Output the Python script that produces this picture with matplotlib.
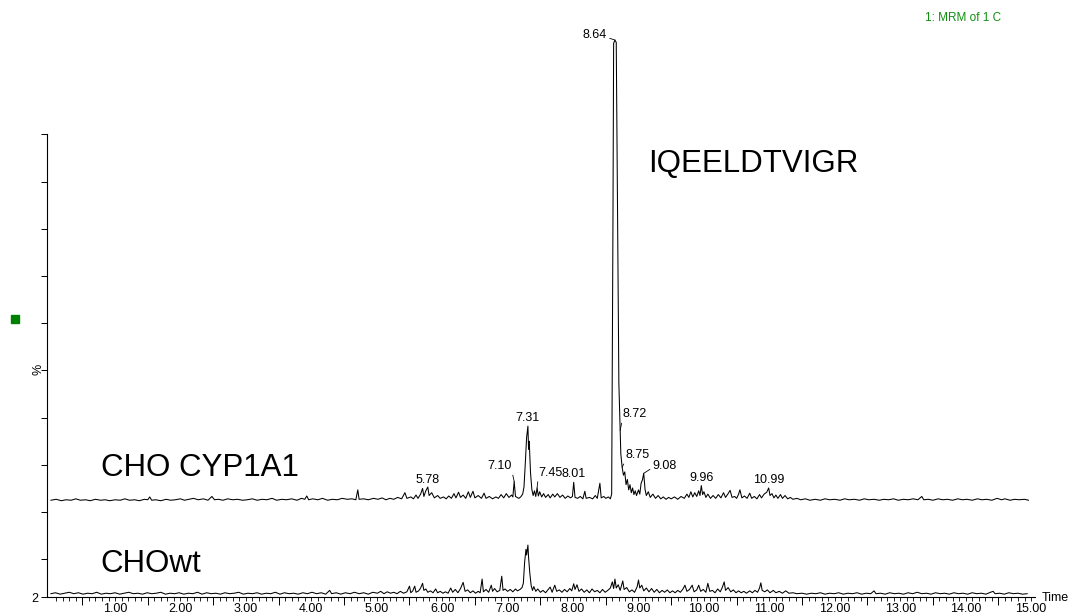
import numpy as np
import matplotlib
matplotlib.use("Agg")
import matplotlib.pyplot as plt
from matplotlib.patches import Rectangle

plt.rcParams['font.family'] = ['Liberation Sans', 'DejaVu Sans']

# ---------------- data (retention time in min, intensity in % of axis) -------------
TOP_T = [0.02, 0.1, 0.18, 0.25, 0.33, 0.4, 0.47, 0.55, 0.62, 0.7, 0.78, 0.85, 0.92, 1.0, 1.08, 1.15,
         1.22, 1.3, 1.37, 1.45, 1.5, 1.53, 1.56, 1.62, 1.7, 1.78, 1.85, 1.92, 2.0, 2.06, 2.13, 2.2,
         2.27, 2.35, 2.42, 2.48, 2.52, 2.58, 2.65, 2.72, 2.8, 2.87, 2.95, 3.02, 3.1, 3.17, 3.25,
         3.32, 3.4, 3.47, 3.55, 3.62, 3.7, 3.78, 3.85, 3.9, 3.93, 3.96, 4.02, 4.1, 4.17, 4.25, 4.32,
         4.4, 4.47, 4.55, 4.62, 4.68, 4.71, 4.73, 4.8, 4.87, 4.95,
         5.02, 5.08, 5.14, 5.2, 5.26, 5.32, 5.38, 5.43, 5.46, 5.52, 5.56, 5.6, 5.63, 5.67, 5.70,
         5.72, 5.75, 5.78, 5.8, 5.84, 5.88, 5.93, 5.97, 6.02, 6.06, 6.1, 6.14, 6.18, 6.21, 6.25,
         6.28, 6.32, 6.36, 6.4, 6.43, 6.47, 6.5, 6.55, 6.6, 6.64, 6.67, 6.72, 6.77, 6.82, 6.86,
         6.9, 6.94, 6.98, 7.02, 7.06, 7.08, 7.10, 7.12, 7.17, 7.2, 7.23,
         7.25, 7.27, 7.29, 7.31, 7.32, 7.33, 7.35, 7.37, 7.39, 7.41, 7.43, 7.45, 7.47, 7.49, 7.52,
         7.55, 7.58, 7.62, 7.65, 7.69, 7.72, 7.76, 7.8, 7.84, 7.88, 7.92, 7.96, 7.99, 8.01, 8.03,
         8.07, 8.11, 8.15, 8.18, 8.2, 8.25, 8.3, 8.34, 8.37, 8.41, 8.43, 8.47, 8.5, 8.54, 8.57,
         8.59, 8.61, 8.62, 8.64, 8.66, 8.68, 8.70, 8.72, 8.73, 8.75, 8.77, 8.79, 8.81, 8.83, 8.85,
         8.87, 8.89, 8.91, 8.93, 8.95, 8.97, 9.0, 9.02, 9.04, 9.06, 9.08, 9.1, 9.12, 9.15, 9.18,
         9.22, 9.26, 9.3, 9.34, 9.38, 9.42, 9.46, 9.5, 9.55, 9.6, 9.65, 9.7, 9.74, 9.77, 9.8, 9.83,
         9.86, 9.89, 9.92, 9.94, 9.96, 9.98, 10.0, 10.03, 10.06, 10.1, 10.14, 10.18, 10.22, 10.26,
         10.3, 10.33, 10.37, 10.4, 10.43, 10.47, 10.5, 10.53, 10.55, 10.58, 10.62, 10.66, 10.7,
         10.73, 10.77, 10.81, 10.85, 10.88, 10.92, 10.96, 10.99, 11.01, 11.04, 11.07, 11.1, 11.13,
         11.17, 11.2, 11.24, 11.28, 11.32, 11.36, 11.42, 11.48,
         11.55, 11.62, 11.7, 11.78, 11.85, 11.92, 12.0, 12.08, 12.15, 12.22, 12.3, 12.38, 12.45,
         12.52, 12.6, 12.68, 12.75, 12.82, 12.9, 12.97, 13.05, 13.12, 13.2, 13.27, 13.33, 13.36,
         13.43, 13.5, 13.58, 13.65, 13.72, 13.8, 13.88, 13.95, 14.02, 14.1, 14.18, 14.25, 14.32,
         14.4, 14.48, 14.55, 14.6, 14.68, 14.75, 14.82, 14.9, 14.96]
TOP_I = [0.2, 0.4, 0.1, 0.3, 0.2, 0.5, 0.2, 0.3, 0.1, 0.4, 0.2, 0.3, 0.1, 0.3, 0.2, 0.5,
         0.2, 0.3, 0.1, 0.4, 0.3, 0.9, 0.2, 0.3, 0.1, 0.4, 0.2, 0.3, 0.5, 0.2, 0.4, 0.6,
         0.3, 0.5, 0.2, 1.0, 0.3, 0.4, 0.2, 0.5, 0.3, 0.4, 0.2, 0.3, 0.5, 0.2, 0.4,
         0.3, 0.6, 0.2, 0.4, 0.3, 0.5, 0.2, 0.6, 0.4, 1.1, 0.3, 0.5, 0.3, 0.6, 0.2, 0.4,
         0.3, 0.6, 0.4, 0.5, 0.3, 2.4, 0.4, 0.5, 0.3, 0.6,
         0.4, 0.7, 0.3, 0.6, 0.4, 0.8, 0.5, 1.8, 0.6, 0.9, 0.5, 1.3, 0.6, 1.5, 2.7,
         1.0, 2.2, 3.0, 1.2, 1.8, 0.7, 1.2, 0.6, 0.9, 0.5, 1.1, 0.6, 1.6, 0.7, 1.9,
         0.8, 1.3, 0.6, 2.0, 0.8, 2.1, 0.7, 1.2, 0.6, 1.7, 0.6, 1.0, 0.5, 0.9, 0.6,
         1.4, 0.7, 1.6, 0.8, 1.3, 0.9, 4.2, 1.0, 0.6, 0.9, 1.5,
         3.0, 8.0, 13.5, 15.9, 11.0, 12.7, 6.0, 2.5, 1.2, 2.2, 1.0, 2.8, 1.1, 2.0, 0.9,
         1.6, 0.8, 1.4, 0.7, 1.5, 0.9, 1.6, 0.8, 1.3, 0.6, 1.1, 0.7, 1.0, 4.0, 0.8,
         0.6, 1.0, 0.5, 2.1, 0.6, 0.8, 0.5, 1.2, 0.6, 3.8, 0.7, 1.0, 0.6, 0.9, 0.5,
         1.5, 60.0, 97.0, 97.7, 97.2, 60.0, 25.0, 15.0, 10.0, 7.2, 5.5, 6.2, 3.5, 4.6, 2.4,
         3.5, 1.8, 2.8, 1.4, 2.2, 1.2, 2.4, 1.5, 3.8, 4.5, 5.9, 2.5, 1.2, 2.0, 0.8,
         1.5, 0.6, 1.2, 0.5, 0.9, 0.4, 0.8, 0.5, 0.9, 0.4, 1.0, 0.6, 1.5, 0.8, 2.0, 0.9,
         1.8, 1.0, 2.2, 1.2, 3.3, 1.4, 2.0, 0.8, 1.5, 0.6, 1.2, 0.6, 1.4, 0.7,
         1.8, 0.8, 1.6, 2.3, 0.8, 1.0, 0.6, 1.5, 2.4, 0.7, 1.1, 0.6, 1.7,
         0.6, 1.0, 0.5, 1.4, 0.7, 1.5, 1.9, 2.8, 1.2, 1.6, 0.7, 1.3, 0.6,
         1.4, 0.6, 1.2, 0.5, 0.8, 0.4, 0.6, 0.3,
         0.5, 0.2, 0.4, 0.2, 0.5, 0.3, 0.4, 0.2, 0.5, 0.3, 0.4, 0.2, 0.5,
         0.3, 0.4, 0.2, 0.4, 0.3, 0.5, 0.2, 0.4, 0.3, 0.5, 0.3, 1.0, 0.3,
         0.4, 0.2, 0.5, 0.3, 0.4, 0.2, 0.5, 0.3, 0.4, 0.2, 0.5, 0.3, 0.4,
         0.2, 0.6, 0.3, 0.5, 0.2, 0.4, 0.3, 0.4, 0.2]

WT_T = [0.02, 0.09, 0.16, 0.23, 0.3, 0.37, 0.44, 0.51, 0.58, 0.65, 0.72, 0.79, 0.86, 0.93, 1.0,
        1.07, 1.14, 1.21, 1.28, 1.35, 1.42, 1.49, 1.56, 1.63, 1.7, 1.77, 1.84, 1.91, 1.98, 2.05,
        2.12, 2.19, 2.26, 2.33, 2.4, 2.47, 2.54, 2.61, 2.68, 2.75, 2.82, 2.89, 2.96, 3.03, 3.1,
        3.17, 3.24, 3.31, 3.38, 3.45, 3.52, 3.59, 3.66, 3.73, 3.8, 3.87, 3.94, 4.01, 4.08, 4.15,
        4.22, 4.28, 4.31, 4.38, 4.45, 4.52, 4.59, 4.66, 4.73, 4.8, 4.87, 4.94,
        5.01, 5.06, 5.11, 5.16, 5.21, 5.26, 5.31, 5.36, 5.41, 5.46, 5.5, 5.52, 5.55, 5.58, 5.6,
        5.64, 5.67, 5.7, 5.72, 5.75, 5.78, 5.82, 5.86, 5.9, 5.93, 5.97, 6.01, 6.05, 6.09, 6.13,
        6.16, 6.2, 6.24, 6.28, 6.32, 6.35, 6.39, 6.43, 6.47, 6.51, 6.55, 6.58, 6.61, 6.63, 6.67,
        6.71, 6.75, 6.77, 6.8, 6.84, 6.88, 6.91, 6.93, 6.96, 7.0, 7.04, 7.08, 7.12, 7.15, 7.19,
        7.22, 7.24, 7.26, 7.28, 7.29, 7.31, 7.32, 7.34, 7.36, 7.38, 7.4, 7.43, 7.46, 7.5, 7.54,
        7.58, 7.62, 7.65, 7.68, 7.72, 7.75, 7.79, 7.83, 7.87, 7.91, 7.95, 7.98, 8.01, 8.03, 8.06,
        8.09, 8.13, 8.17, 8.21, 8.25, 8.29, 8.33, 8.37, 8.41, 8.45, 8.49, 8.53, 8.57, 8.6, 8.62,
        8.64, 8.66, 8.69, 8.72, 8.76, 8.78, 8.82, 8.86, 8.9, 8.94, 8.98, 9.0, 9.02, 9.05, 9.08,
        9.12, 9.16, 9.2, 9.24, 9.28, 9.32, 9.36, 9.4, 9.44, 9.48, 9.52, 9.56, 9.6, 9.64, 9.68,
        9.71, 9.74, 9.78, 9.82, 9.85, 9.89, 9.92, 9.95, 9.99, 10.03, 10.06, 10.09, 10.13, 10.17,
        10.21, 10.25, 10.28, 10.31, 10.33, 10.37, 10.41, 10.45, 10.49, 10.53, 10.57, 10.61,
        10.65, 10.7, 10.74, 10.78, 10.82, 10.85, 10.87, 10.89, 10.93, 10.97, 11.01, 11.06, 11.1,
        11.15, 11.2, 11.25, 11.3, 11.36, 11.42,
        11.5, 11.57, 11.64, 11.71, 11.78, 11.85, 11.92, 11.99, 12.06, 12.13, 12.2, 12.27, 12.34,
        12.41, 12.48, 12.55, 12.6, 12.63, 12.7, 12.77, 12.84, 12.91, 12.98, 13.05, 13.12, 13.19,
        13.26, 13.33, 13.4, 13.47, 13.54, 13.61, 13.68, 13.75, 13.82, 13.89, 13.96, 14.03, 14.1,
        14.17, 14.24, 14.31, 14.38, 14.42, 14.45, 14.52, 14.59, 14.66, 14.73, 14.8, 14.87, 14.94]
WT_I = [0.3, 0.5, 0.2, 0.4, 0.6, 0.3, 0.5, 0.2, 0.4, 0.3, 0.6, 0.2, 0.4, 0.3, 0.5,
        0.2, 0.4, 0.6, 0.3, 0.4, 0.2, 0.5, 0.3, 0.4, 0.6, 0.2, 0.4, 0.3, 0.5, 0.2,
        0.4, 0.3, 0.6, 0.2, 0.5, 0.3, 0.4, 0.2, 0.5, 0.3, 0.4, 0.6, 0.2, 0.4, 0.3,
        0.5, 0.2, 0.4, 0.3, 0.6, 0.2, 0.5, 0.3, 0.4, 0.2, 0.5, 0.3, 0.6, 0.3, 0.5,
        0.2, 1.0, 0.3, 0.5, 0.2, 0.5, 0.3, 0.6, 0.3, 0.5, 0.2, 0.6,
        0.4, 0.8, 0.3, 0.7, 0.4, 0.6, 0.3, 0.8, 0.4, 0.7, 1.9, 0.5, 0.9, 1.9, 0.6,
        0.9, 1.5, 2.5, 1.0, 1.3, 0.6, 0.9, 0.5, 1.3, 0.5, 0.8, 0.4, 0.7, 0.4, 1.5,
        0.6, 1.2, 0.5, 1.4, 2.7, 0.8, 1.1, 0.5, 0.9, 0.4, 0.8, 0.5, 3.4, 0.7, 1.2,
        0.6, 2.1, 0.8, 1.4, 0.7, 1.0, 4.0, 1.0, 1.3, 0.8, 1.2, 0.7, 1.3, 0.9, 1.2,
        1.6, 2.5, 7.0, 9.7, 8.5, 10.6, 8.0, 4.5, 2.0, 1.0, 1.8, 0.8, 1.3, 0.6, 1.0,
        0.5, 1.2, 1.7, 0.6, 2.1, 0.8, 1.1, 0.6, 1.2, 0.7, 1.4, 0.9, 2.4, 1.2, 2.2,
        0.8, 1.3, 0.6, 1.1, 0.5, 1.3, 0.7, 1.0, 0.5, 1.2, 0.6, 1.0, 1.5, 2.8, 1.4,
        3.4, 1.5, 2.2, 1.0, 3.0, 1.2, 1.6, 0.7, 1.1, 0.6, 1.8, 3.2, 1.5, 2.1, 0.9,
        1.5, 0.7, 1.4, 0.6, 1.2, 0.5, 1.0, 0.6, 1.1, 0.5, 0.9, 0.5, 1.0, 0.6, 1.3,
        2.1, 0.8, 1.2, 2.1, 0.7, 1.1, 2.1, 0.8, 1.2, 0.6, 2.5, 0.8, 1.0, 0.5,
        1.3, 0.7, 1.6, 2.8, 1.0, 1.6, 0.7, 1.1, 0.5, 0.9, 0.5, 0.8,
        0.4, 0.9, 0.5, 1.0, 0.6, 1.5, 2.6, 1.0, 0.7, 1.1, 0.5, 1.0, 0.5,
        0.8, 0.4, 0.9, 0.4, 0.5, 0.3,
        0.4, 0.2, 0.4, 0.3, 0.5, 0.2, 0.4, 0.3, 0.5, 0.2, 0.4, 0.3, 0.5,
        0.2, 0.4, 0.3, 0.9, 0.3, 0.4, 0.2, 0.5, 0.3, 0.4, 0.2, 0.5, 0.3,
        0.6, 0.3, 0.4, 0.2, 0.5, 0.3, 0.4, 0.2, 0.5, 0.3, 0.4, 0.2, 0.5,
        0.3, 0.4, 0.2, 0.6, 0.8, 0.3, 0.4, 0.2, 0.5, 0.3, 0.4, 0.2, 0.3]

PEAK_LABELS = [5.78, 7.10, 7.31, 7.45, 8.01, 8.64, 8.72, 8.75, 9.08, 9.96, 10.99]
X_TICKS = [1, 2, 3, 4, 5, 6, 7, 8, 9, 10, 11, 12, 13, 14, 15]
Y_TICKS = [2, 10, 20, 30, 40, 50, 60, 70, 80, 90, 100]
PEPTIDE = "IQEELDTVIGR"
SAMPLES = ["CHO CYP1A1", "CHOwt"]
CHANNEL = "1: MRM of 1 C"

# ---------------- layout ----------------
W, H = 1070, 615
TOP_BASE = 22.3   # vertical offset of the upper trace
WT_BASE = 2.4     # vertical offset of the lower trace

fig = plt.figure(figsize=(W / 100, H / 100), dpi=100)
ax = fig.add_axes([47 / W, 18 / H, 988 / W, 597 / H])
ax.set_xlim(-0.04, 15.06)
ax.set_ylim(2, 2 + 597 / 4.72)

top_t = np.array(TOP_T)
top_i = np.array(TOP_I)
ax.plot(top_t, top_i + TOP_BASE, color='black', lw=0.75, clip_on=False)
ax.plot(WT_T, np.array(WT_I) + WT_BASE, color='black', lw=0.75, clip_on=False)

for s in ('top', 'right'):
    ax.spines[s].set_visible(False)
ax.spines['left'].set_bounds(2, 100)
ax.spines['left'].set_linewidth(0.8)
ax.spines['bottom'].set_linewidth(0.8)

ax.set_yticks(Y_TICKS)
ax.set_yticklabels(['2'] + [''] * (len(Y_TICKS) - 1))
ax.tick_params(axis='y', direction='out', length=4, width=0.7, pad=2, labelsize=9)

ax.set_xticks(X_TICKS)
ax.set_xticklabels([f"{v:.2f}" for v in X_TICKS])
ax.set_xticks(np.arange(1, 151) / 10, minor=True)
ax.tick_params(axis='x', which='both', direction='out', length=3, width=0.6, pad=1.5, labelsize=9)
sec = ax.secondary_xaxis('bottom')
half = np.arange(0, 15) + 0.5
sec.set_xticks(half, labels=[''] * len(half))
sec.tick_params(axis='x', direction='out', length=6, width=0.7)
sec.spines['bottom'].set_visible(False)

# peak labels
offsets = {
    5.78: (0, 1, 'center', None),
    7.10: (-2, 9, 'right', (1, 0)),
    7.31: (0, 2, 'center', None),
    7.45: (1, 9, 'left', (0, 0)),
    8.01: (0, 2, 'center', None),
    8.64: (-8, -1, 'right', (1, 0.3)),
    8.72: (2, 10, 'left', (0, 0)),
    8.75: (3, 6, 'left', (0, 0)),
    9.08: (9, 1, 'left', (0, 0.4)),
    9.96: (0, 2, 'center', None),
    10.99: (0, 2, 'center', None),
}
for t in PEAK_LABELS:
    idx = int(np.argmin(np.abs(top_t - t)))
    y = top_i[idx] + TOP_BASE
    dx, dy, ha, rel = offsets[t]
    kw = {}
    if rel is not None:
        kw['arrowprops'] = dict(arrowstyle='-', lw=0.6, color='black',
                                shrinkA=0, shrinkB=0, relpos=rel)
    ax.annotate(f"{t:.2f}", xy=(t, y), xytext=(dx, dy), textcoords='offset pixels',
                ha=ha, va='bottom', fontsize=9, annotation_clip=False, **kw)

# texts
fig.text(648 / W, 1 - 172 / H, PEPTIDE, fontsize=22.5, ha='left', va='baseline')
fig.text(101 / W, 1 - 476 / H, SAMPLES[0], fontsize=22.5, ha='left', va='baseline')
fig.text(100 / W, 1 - 572 / H, SAMPLES[1], fontsize=22.5, ha='left', va='baseline')
fig.text(925 / W, 1 - 18 / H, CHANNEL, fontsize=8.5, color='#109010', ha='left', va='center')
fig.text(1042 / W, 1 - 598 / H, 'Time', fontsize=9, ha='left', va='center')
fig.text(38 / W, 1 - 369 / H, '%', fontsize=9, rotation=90, ha='center', va='center')
fig.add_artist(Rectangle((11 / W, 1 - 323 / H), 8 / W, 8 / H, transform=fig.transFigure,
                         color='#008000'))

fig.savefig('out.png', dpi=100)
